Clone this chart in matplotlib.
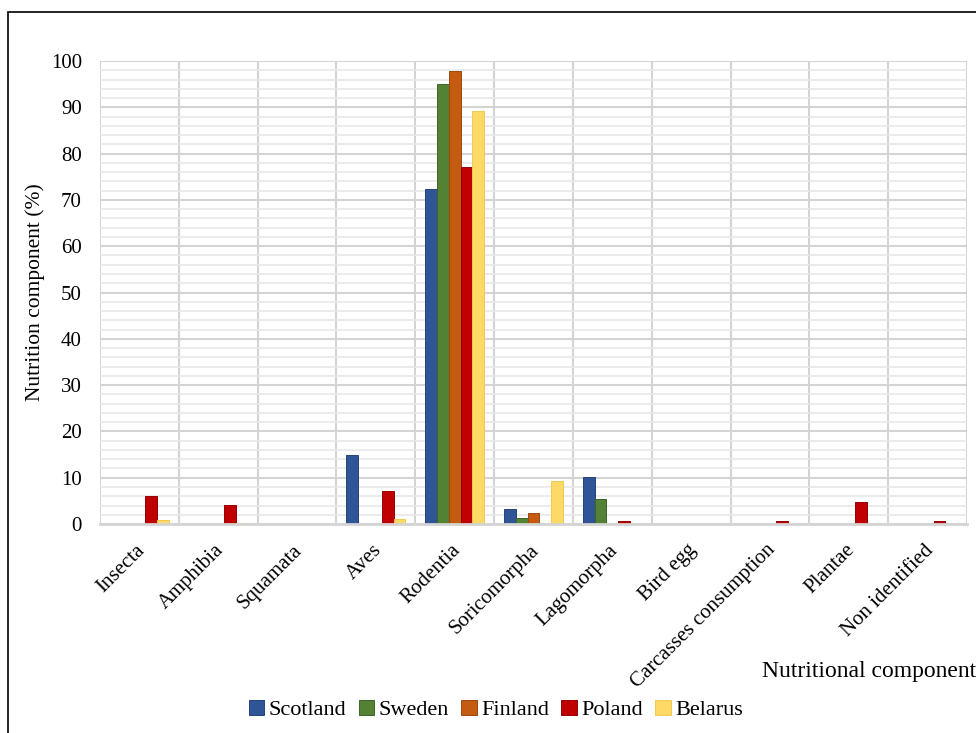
import numpy as np
import matplotlib.pyplot as plt
from matplotlib.patches import Rectangle
from matplotlib.transforms import ScaledTranslation

categories = ['Insecta', 'Amphibia', 'Squamata', 'Aves', 'Rodentia', 'Soricomorpha',
              'Lagomorpha', 'Bird egg', 'Carcasses consumption', 'Plantae', 'Non identified']
scotland = [0, 0, 0, 14.8, 72.3, 3.2, 10.1, 0, 0, 0, 0]
sweden = [0, 0, 0, 0, 95.0, 1.2, 5.3, 0, 0, 0, 0]
finland = [0, 0, 0, 0, 97.8, 2.3, 0, 0, 0, 0, 0]
poland = [6.1, 4.2, 0, 7.2, 77.0, 0, 0.7, 0, 0.7, 4.8, 0.7]
belarus = [0.9, 0.3, 0, 1.1, 89.3, 9.2, 0, 0, 0, 0, 0]

series = [('Scotland', scotland, '#2F5597', '#24447a'),
          ('Sweden', sweden, '#548235', '#3f6428'),
          ('Finland', finland, '#C55A11', '#9c470d'),
          ('Poland', poland, '#C00000', '#960000'),
          ('Belarus', belarus, '#FFD966', '#f0c850')]

plt.rcParams['font.family'] = ['Liberation Serif', 'DejaVu Serif']

fig = plt.figure(figsize=(9.76, 7.33), dpi=100)
ax = fig.add_axes([0.1025, 0.2851, 0.8883, 0.6317])

x = np.arange(len(categories))
w = 0.15
for i, (name, vals, col, edge) in enumerate(series):
    v = np.array(vals, dtype=float)
    v = np.where(v > 0, v, np.nan)
    ax.bar(x + (i - 2) * w, v, w, color=col, edgecolor=edge, linewidth=0.7,
           label=name, zorder=3)

ax.set_xlim(-0.5, len(categories) - 0.5)
ax.set_ylim(0, 100)
ax.set_yticks(np.arange(0, 101, 10))
ax.set_yticks(np.arange(0, 101, 2), minor=True)
ax.grid(axis='y', which='major', color='#d4d4d4', linewidth=1.5, zorder=0)
ax.grid(axis='y', which='minor', color='#e8e8e8', linewidth=1.2, zorder=0)
for b in np.arange(-0.5, len(categories), 1):
    ax.axvline(b, color='#d4d4d4', linewidth=1.5, zorder=1)

ax.set_xticks(x)
ax.set_xticklabels(categories, rotation=45, ha='right', rotation_mode='anchor',
                   fontsize=15)
ax.tick_params(axis='both', which='both', length=0)
ax.tick_params(axis='y', labelsize=15, pad=13)
ax.tick_params(axis='x', pad=12)
# nudge rotated labels a little to the left
shift = ScaledTranslation(-4 / 100, 0, fig.dpi_scale_trans)
for lbl in ax.get_xticklabels():
    lbl.set_transform(lbl.get_transform() + shift)
for s in ['top', 'right', 'left']:
    ax.spines[s].set_visible(False)
ax.spines['bottom'].set_color('#d4d4d4')
ax.spines['bottom'].set_linewidth(2)
ax.spines['bottom'].set_zorder(4)

ax.set_ylabel('Nutrition component (%)', fontsize=15.5, labelpad=4)
fig.text(762 / 976, 1 - 672 / 733, 'Nutritional component', fontsize=17,
         ha='left', va='center')

fig.legend(loc='center', bbox_to_anchor=(0.508, 1 - 710 / 733), ncol=5,
           frameon=False, fontsize=16, handlelength=0.7, handleheight=0.7,
           handletextpad=0.2, columnspacing=0.55)

fig.patches.append(Rectangle((8 / 976, -0.1), 1.2, 1 - 12 / 733 + 0.1,
                             transform=fig.transFigure, fill=False,
                             edgecolor='black', linewidth=1.2))

fig.savefig('out.png', dpi=100)
